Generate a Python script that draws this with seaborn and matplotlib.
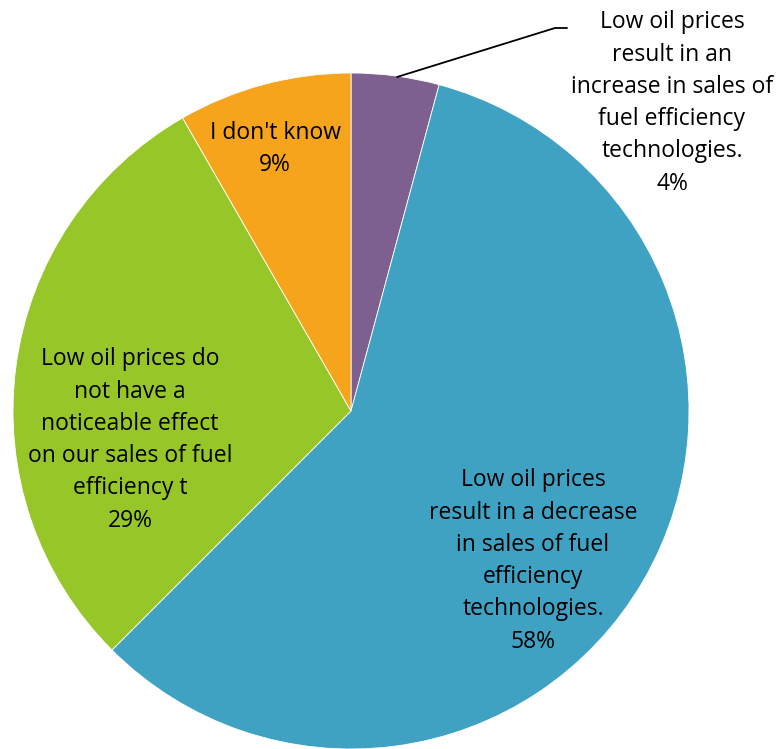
import matplotlib
matplotlib.use("Agg")
import matplotlib.pyplot as plt
import seaborn as sns

# slice shares (clockwise from 12 o'clock)
categories = [
    "Low oil prices\nresult in an\nincrease in sales of\nfuel efficiency\ntechnologies.",
    "Low oil prices\nresult in a decrease\nin sales of fuel\nefficiency\ntechnologies.",
    "Low oil prices do\nnot have a\nnoticeable effect\non our sales of fuel\nefficiency t",
    "I don't know",
]
shares = [4.2, 58.3, 29.2, 8.3]
pct_labels = ["4%", "58%", "29%", "9%"]
colors = ["#7D6090", "#40A2C2", "#97C629", "#F5A41C"]

sns.set_theme(style="white")
plt.rcParams["font.family"] = ["Open Sans", "DejaVu Sans"]

W, H = 779, 749
CX, CY, R = 351, 411, 338  # pie center / radius in pixels


def px(x, y):
    return (x - CX) / R, (CY - y) / R


fig = plt.figure(figsize=(W / 100, H / 100), dpi=100)
ax = fig.add_axes([0, 0, 1, 1])
ax.pie(shares, colors=colors, startangle=90, counterclock=False,
       radius=1, wedgeprops=dict(edgecolor="white", linewidth=0.6))
ax.set_xlim(-CX / R, (W - CX) / R)
ax.set_ylim(-(H - CY) / R, CY / R)
ax.set_aspect("equal")
ax.axis("off")

# label centres (pixel coords of text block centre)
label_pos = [(672, 103), (533, 561), (130, 440), (275, 149)]
for cat, pct, (x, y) in zip(categories, pct_labels, label_pos):
    tx, ty = px(x, y)
    ax.text(tx, ty, f"{cat}\n{pct}", ha="center", va="center",
            fontsize=16.5, linespacing=1.46, color="black")

# leader line for the small slice
lx, ly = zip(px(397, 77), px(555, 28), px(567, 28))
ax.plot(lx, ly, color="black", linewidth=1.3, clip_on=False)

fig.savefig("out.png", dpi=100)
